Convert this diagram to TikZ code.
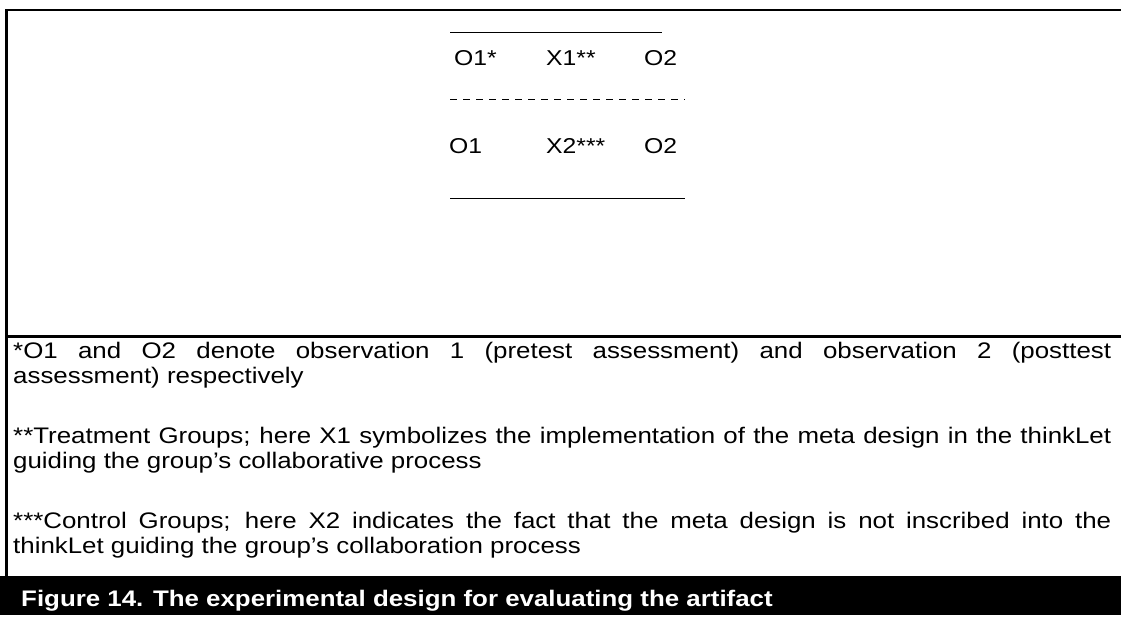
\documentclass[tikz,border=0pt]{standalone}
\usepackage{fontspec}
\setmainfont{Liberation Sans}[FakeStretch=1.15]
\usetikzlibrary{calc}

\begin{document}
\begin{tikzpicture}[x=1pt,y=1pt,
  rule/.style={line width=2.2pt},
  thin rule/.style={line width=1.5pt},
  design/.style={inner sep=0pt,anchor=base west,font=\fontsize{21.5}{25}\selectfont},
  note/.style={inner sep=0pt,anchor=base west,text width=1098pt,align=justify,
    font=\fontsize{22.5}{25}\selectfont,
    execute at begin node={\tolerance=9999\relax\hyphenpenalty=10000\relax}}]
  \useasboundingbox (0,0) rectangle (1121,-617);
  % frame of the figure box
  \draw[rule] (1121,-10) -- (6.5,-10) -- (6.5,-576);
  \draw[rule] (6.5,-336.5) -- (1121,-336.5);
  % lines of the design
  \draw[thin rule] (450,-32.3) -- (662,-32.3);
  \draw[thin rule,dash pattern=on 7pt off 6pt] (450,-99.3) -- (685,-99.3);
  \draw[thin rule] (450,-198.3) -- (685,-198.3);
  % treatment row and control row
  \node[design] (o1t) at (454,-65.7) {O1*};
  \node[design] (x1)  at (546,-65.7) {X1**};
  \node[design] (o2t) at (644,-65.7) {O2};
  \node[design] (o1c) at (449,-154) {O1};
  \node[design] (x2)  at (546,-154) {X2***};
  \node[design] (o2c) at (644,-154) {O2};
  % footnotes
  \node[note] (note1) at (13,-358) {*O1 and O2 denote observation 1 (pretest assessment) and observation 2 (posttest\linebreak assessment) respectively};
  \node[note] (note2) at (13,-443) {**Treatment Groups; here X1 symbolizes the implementation of the meta design in the thinkLet\linebreak guiding the group’s collaborative process};
  \node[note] (note3) at (13,-528) {***Control Groups; here X2 indicates the fact that the meta design is not inscribed into the\linebreak thinkLet guiding the group’s collaboration process};
  % caption bar
  \fill (0,-576) rectangle (1121,-615);
  \node[inner sep=0pt,anchor=base west,text=white,font=\fontsize{22.5}{25}\selectfont\bfseries]
    (caption) at (21,-606.5) {Figure 14. The experimental design for evaluating the artifact};
\end{tikzpicture}
\end{document}
